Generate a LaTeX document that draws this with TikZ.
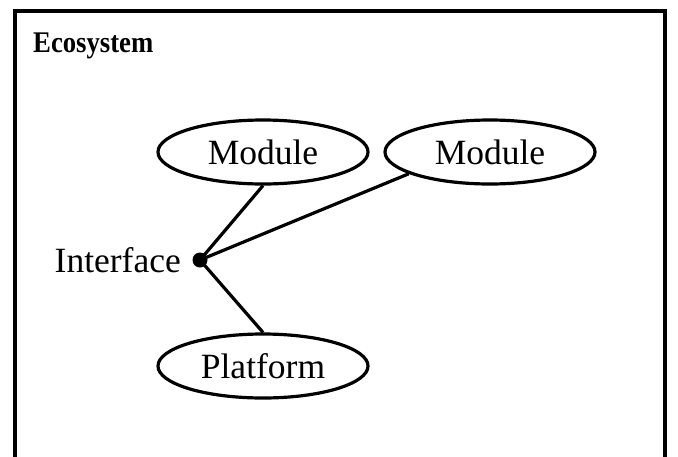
\documentclass[tikz,border=0pt]{standalone}
\usepackage{fontspec}
\usepackage{graphicx}
\setmainfont{Liberation Serif}
\usetikzlibrary{shapes.geometric}
\begin{document}
\begin{tikzpicture}[x=1pt,y=-1pt,
  ell/.style={draw,ellipse,line width=3.2pt,minimum width=210pt,minimum height=64pt,inner sep=0pt,font=\fontsize{35.5}{38}\selectfont},
  conn/.style={line width=3.2pt}]
\clip (0,0) rectangle (678,456);
\useasboundingbox (0,0) rectangle (678,456);
\fill[white] (0,0) rectangle (678,456);
\draw[line width=3.2pt] (15,11) rectangle (665,480);
\node[anchor=base west,font=\fontsize{30}{33}\selectfont\bfseries,inner sep=0pt] (title) at (33,52) {\scalebox{0.89}[1]{Ecosystem}};
\node[ell] (m1) at (263,152) {Module};
\node[ell] (m2) at (490,152) {Module};
\node[ell] (p) at (263,366) {Platform};
\node[circle,fill=black,minimum size=15pt,inner sep=0pt] (dot) at (200,260) {};
\node[anchor=east,inner sep=0pt,font=\fontsize{35.5}{38}\selectfont] (ilabel) at (181,260) {Interface};
\draw[conn] (dot.center) -- (m1.south);
\draw[conn] (dot.center) -- (m2.195);
\draw[conn] (dot.center) -- (p.north);
\end{tikzpicture}
\end{document}
